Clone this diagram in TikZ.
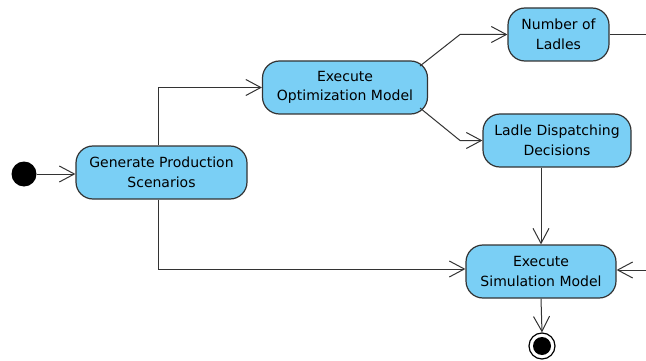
\documentclass[tikz,border=0pt]{standalone}
\usepackage{fontspec}
\setmainfont{DejaVu Sans}
\usetikzlibrary{arrows.meta}
\definecolor{actfill}{HTML}{7ACFF5}
\definecolor{edgegray}{HTML}{333333}
\begin{document}
\begin{tikzpicture}[x=1pt,y=-1pt,
  action/.style={draw=edgegray, line width=1.2pt, fill=actfill, rounded corners=17pt,
    align=center, font=\fontsize{14}{19.5}\selectfont, inner sep=0pt},
  flow/.style={draw=edgegray, line width=1pt,
    -{Straight Barb[length=15pt,width=16pt,line width=1pt]}},
  plain/.style={draw=edgegray, line width=1pt}
]
\useasboundingbox (0,0) rectangle (646,361);

% start and end markers
\node[circle, fill=black, minimum size=25pt, inner sep=0pt] (start) at (24,174) {};
\node[circle, draw=black, line width=1.2pt, fill=white, minimum size=26pt, inner sep=0pt] (final) at (542,346) {};
\fill[black] (final.center) circle (9pt);

% activities
\node[action, minimum width=171pt, minimum height=53pt] (gen) at (161.5,172.5) {Generate Production\\Scenarios};
\node[action, minimum width=165pt, minimum height=53pt] (opt) at (345,87.5) {Execute\\Optimization Model};
\node[action, minimum width=101pt, minimum height=53pt] (lad) at (558.5,34.5) {Number of\\Ladles};
\node[action, minimum width=148pt, minimum height=53pt] (dis) at (557,140.5) {Ladle Dispatching\\Decisions};
\node[action, minimum width=150pt, minimum height=53pt] (sim) at (541,271.5) {Execute\\Simulation Model};

% loose ends at the right margin
\coordinate (ladout) at (646,34.5);
\coordinate (simin) at (646,270);

% control flow
\draw[flow] (start) -- (gen.west |- start);
\draw[flow] (gen.north -| 158,0) |- (opt.west);
\draw[flow] (420,66) -- (460,34.5) -- (lad.west);
\draw[flow] (420,108) -- (460,140.5) -- (dis.west);
\draw[flow] (dis.south -| 541,0) -- (sim.north);
\draw[flow] (gen.south -| 158,0) |- (sim.west |- 0,269);
\draw[plain] (lad.east) -- (ladout);
\draw[flow] (simin) -- (sim.east |- simin);
\draw[flow] (sim.south) -- (final.north);
\end{tikzpicture}
\end{document}
